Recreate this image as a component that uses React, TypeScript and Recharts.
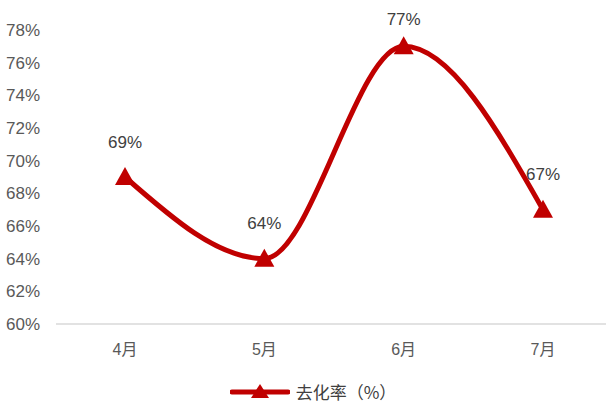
import { LineChart, Line, XAxis, YAxis, Legend, LabelList } from "recharts";

const months = ["4月", "5月", "6月", "7月"];
const sellThrough = [69, 64, 77, 67];
const yTicks = [60, 62, 64, 66, 68, 70, 72, 74, 76, 78];

const data = months.map((m, i) => ({ month: m, rate: sellThrough[i] }));

const RED = "#C00000";
const LATIN = "'Liberation Sans', Arial, 'Noto Sans CJK SC', sans-serif";

const Triangle = (props: any) => {
  const { cx, cy } = props;
  if (cx == null || cy == null) return null;
  return (
    <polygon
      points={`${cx},${cy - 10} ${cx - 10},${cy + 8} ${cx + 10},${cy + 8}`}
      fill={RED}
    />
  );
};

// value label above each point, kept inside the top edge
const ValueLabel = (props: any) => {
  const { x, y, value } = props;
  return (
    <text
      x={x}
      y={Math.max(y - 35, 19)}
      textAnchor="middle"
      dominantBaseline="central"
      fontSize={17}
      fill="#404040"
      fontFamily={LATIN}
    >
      {value}%
    </text>
  );
};

const LegendBox = () => (
  <div
    style={{
      height: 34,
      display: "flex",
      alignItems: "center",
      justifyContent: "center",
      paddingTop: 10,
      boxSizing: "border-box",
    }}
  >
    <svg width={60} height={20} style={{ marginRight: 6, marginLeft: 20 }}>
      <line x1={2} y1={11} x2={58} y2={11} stroke={RED} strokeWidth={5} strokeLinecap="round" />
      <polygon points="30,3 21,17 39,17" fill={RED} />
    </svg>
    <span
      style={{
        fontSize: 17,
        color: "#404040",
        fontFamily: "'Noto Sans CJK SC', sans-serif",
      }}
    >
      去化率（%）
    </span>
  </div>
);

export default function App() {
  return (
    <div style={{ position: "absolute", left: 0, top: 0, width: 606, height: 403, overflow: "hidden", background: "#fff" }}>
      <LineChart
        width={612}
        height={403}
        data={data}
        margin={{ top: 30, right: 0, left: 0, bottom: 0 }}
      >
        <XAxis
          dataKey="month"
          axisLine={{ stroke: "#D9D9D9", strokeWidth: 1.5 }}
          tickLine={false}
          tick={{ fontSize: 16, fill: "#595959", fontFamily: LATIN }}
          tickMargin={14}
          height={45}
          padding={{ left: 69, right: 69 }}
        />
        <YAxis
          domain={[60, 78]}
          ticks={yTicks}
          interval={0}
          tickFormatter={(v: number) => `${v}%`}
          axisLine={false}
          tickLine={false}
          tick={{ fontSize: 17, fill: "#595959", fontFamily: LATIN }}
          width={56}
          tickMargin={10}
        />
        <Legend
          verticalAlign="bottom"
          content={() => <LegendBox />}
          wrapperStyle={{ left: 0, width: 606 }}
        />
        <Line
          type="monotone"
          dataKey="rate"
          stroke={RED}
          strokeWidth={5}
          dot={<Triangle />}
          activeDot={false}
          isAnimationActive={false}
        >
          <LabelList dataKey="rate" content={<ValueLabel />} />
        </Line>
      </LineChart>
    </div>
  );
}
